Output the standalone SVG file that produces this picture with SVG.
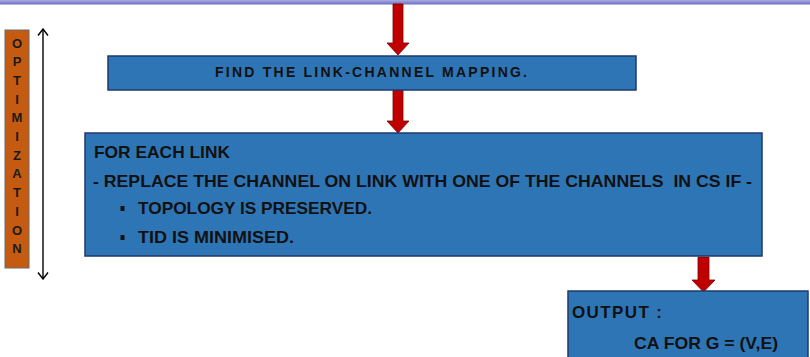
<svg xmlns="http://www.w3.org/2000/svg" width="810" height="357" viewBox="0 0 810 357">
  <defs>
    <linearGradient id="bandGrad" x1="0" y1="0" x2="0" y2="1">
      <stop offset="0" stop-color="#a9abe2"/>
      <stop offset="1" stop-color="#6a6ec4"/>
    </linearGradient>
    <marker id="openHead" viewBox="0 0 12 12" refX="11" refY="6" markerWidth="12" markerHeight="12" markerUnits="userSpaceOnUse" orient="auto-start-reverse">
      <polyline points="4.5,1 11,6 4.5,11" fill="none" stroke="#000" stroke-width="1.4"/>
    </marker>
    <style>
      .box { fill: #2e75b6; stroke: #1f3a6e; stroke-width: 1.5; }
      .flow { fill: #c00000; stroke: #7a0000; stroke-width: 0.8; }
      .txt { font-family: "Liberation Sans", Arial, sans-serif; font-weight: bold; fill: #111; white-space: pre; }
      .side { font-family: "Liberation Sans", Arial, sans-serif; font-weight: bold; font-size: 13px; fill: #1a1a1a; text-anchor: middle; }
    </style>
  </defs>

  <rect width="810" height="357" fill="#ffffff"/>
  <!-- header band -->
  <rect x="0" y="0" width="810" height="4.5" fill="url(#bandGrad)"/>

  <!-- optimisation side label -->
  <g id="optimization-label">
    <rect x="5" y="30" width="24" height="238" fill="#c55a11" stroke="#6b6b6b" stroke-width="1"/>
    <text class="side" x="17" y="47.5">O</text>
    <text class="side" x="17" y="66.2">P</text>
    <text class="side" x="17" y="84.9">T</text>
    <text class="side" x="17" y="103.6">I</text>
    <text class="side" x="17" y="122.3">M</text>
    <text class="side" x="17" y="141">I</text>
    <text class="side" x="17" y="159.7">Z</text>
    <text class="side" x="17" y="178.4">A</text>
    <text class="side" x="17" y="197.1">T</text>
    <text class="side" x="17" y="215.8">I</text>
    <text class="side" x="17" y="234.5">O</text>
    <text class="side" x="17" y="253.2">N</text>
  </g>

  <g id="connectors">
    <!-- double-headed range arrow -->
    <line x1="43" y1="29" x2="43" y2="279" stroke="#000" stroke-width="1.4" marker-start="url(#openHead)" marker-end="url(#openHead)"/>
    <!-- flow arrows -->
    <polygon class="flow" points="393,4 403,4 403,43 409,43 398,55 387,43 393,43"/>
    <polygon class="flow" points="393,90 403,90 403,121 409,121 398,133 387,121 393,121"/>
    <polygon class="flow" points="698,257 709,257 709,280 715,280 703.5,292 692,280 698,280"/>
  </g>

  <g id="find-mapping">
    <rect class="box" x="108" y="56" width="528" height="34"/>
    <text class="txt" x="215" y="77" font-size="14" textLength="312" lengthAdjust="spacing">FIND THE LINK-CHANNEL MAPPING.</text>
  </g>

  <g id="for-each-link">
    <rect class="box" x="85" y="133" width="677" height="123"/>
    <text class="txt" x="94" y="158" font-size="16.5" textLength="136" lengthAdjust="spacingAndGlyphs">FOR EACH LINK</text>
    <text class="txt" x="93" y="187" font-size="16.5" textLength="659" lengthAdjust="spacingAndGlyphs">- REPLACE THE CHANNEL ON LINK WITH ONE OF THE CHANNELS  IN CS IF -</text>
    <rect x="120.5" y="206" width="4" height="5" fill="#111"/>
    <text class="txt" x="138" y="214" font-size="16.5" textLength="234" lengthAdjust="spacingAndGlyphs">TOPOLOGY IS PRESERVED.</text>
    <rect x="120.5" y="235" width="4" height="5" fill="#111"/>
    <text class="txt" x="138" y="243" font-size="16.5" textLength="156" lengthAdjust="spacingAndGlyphs">TID IS MINIMISED.</text>
  </g>

  <g id="output">
    <rect class="box" x="568" y="291" width="240" height="72"/>
    <text class="txt" x="572" y="318" font-size="17" textLength="90" lengthAdjust="spacing">OUTPUT :</text>
    <text class="txt" x="634" y="349" font-size="17" textLength="144" lengthAdjust="spacingAndGlyphs">CA FOR G = (V,E)</text>
  </g>
</svg>
